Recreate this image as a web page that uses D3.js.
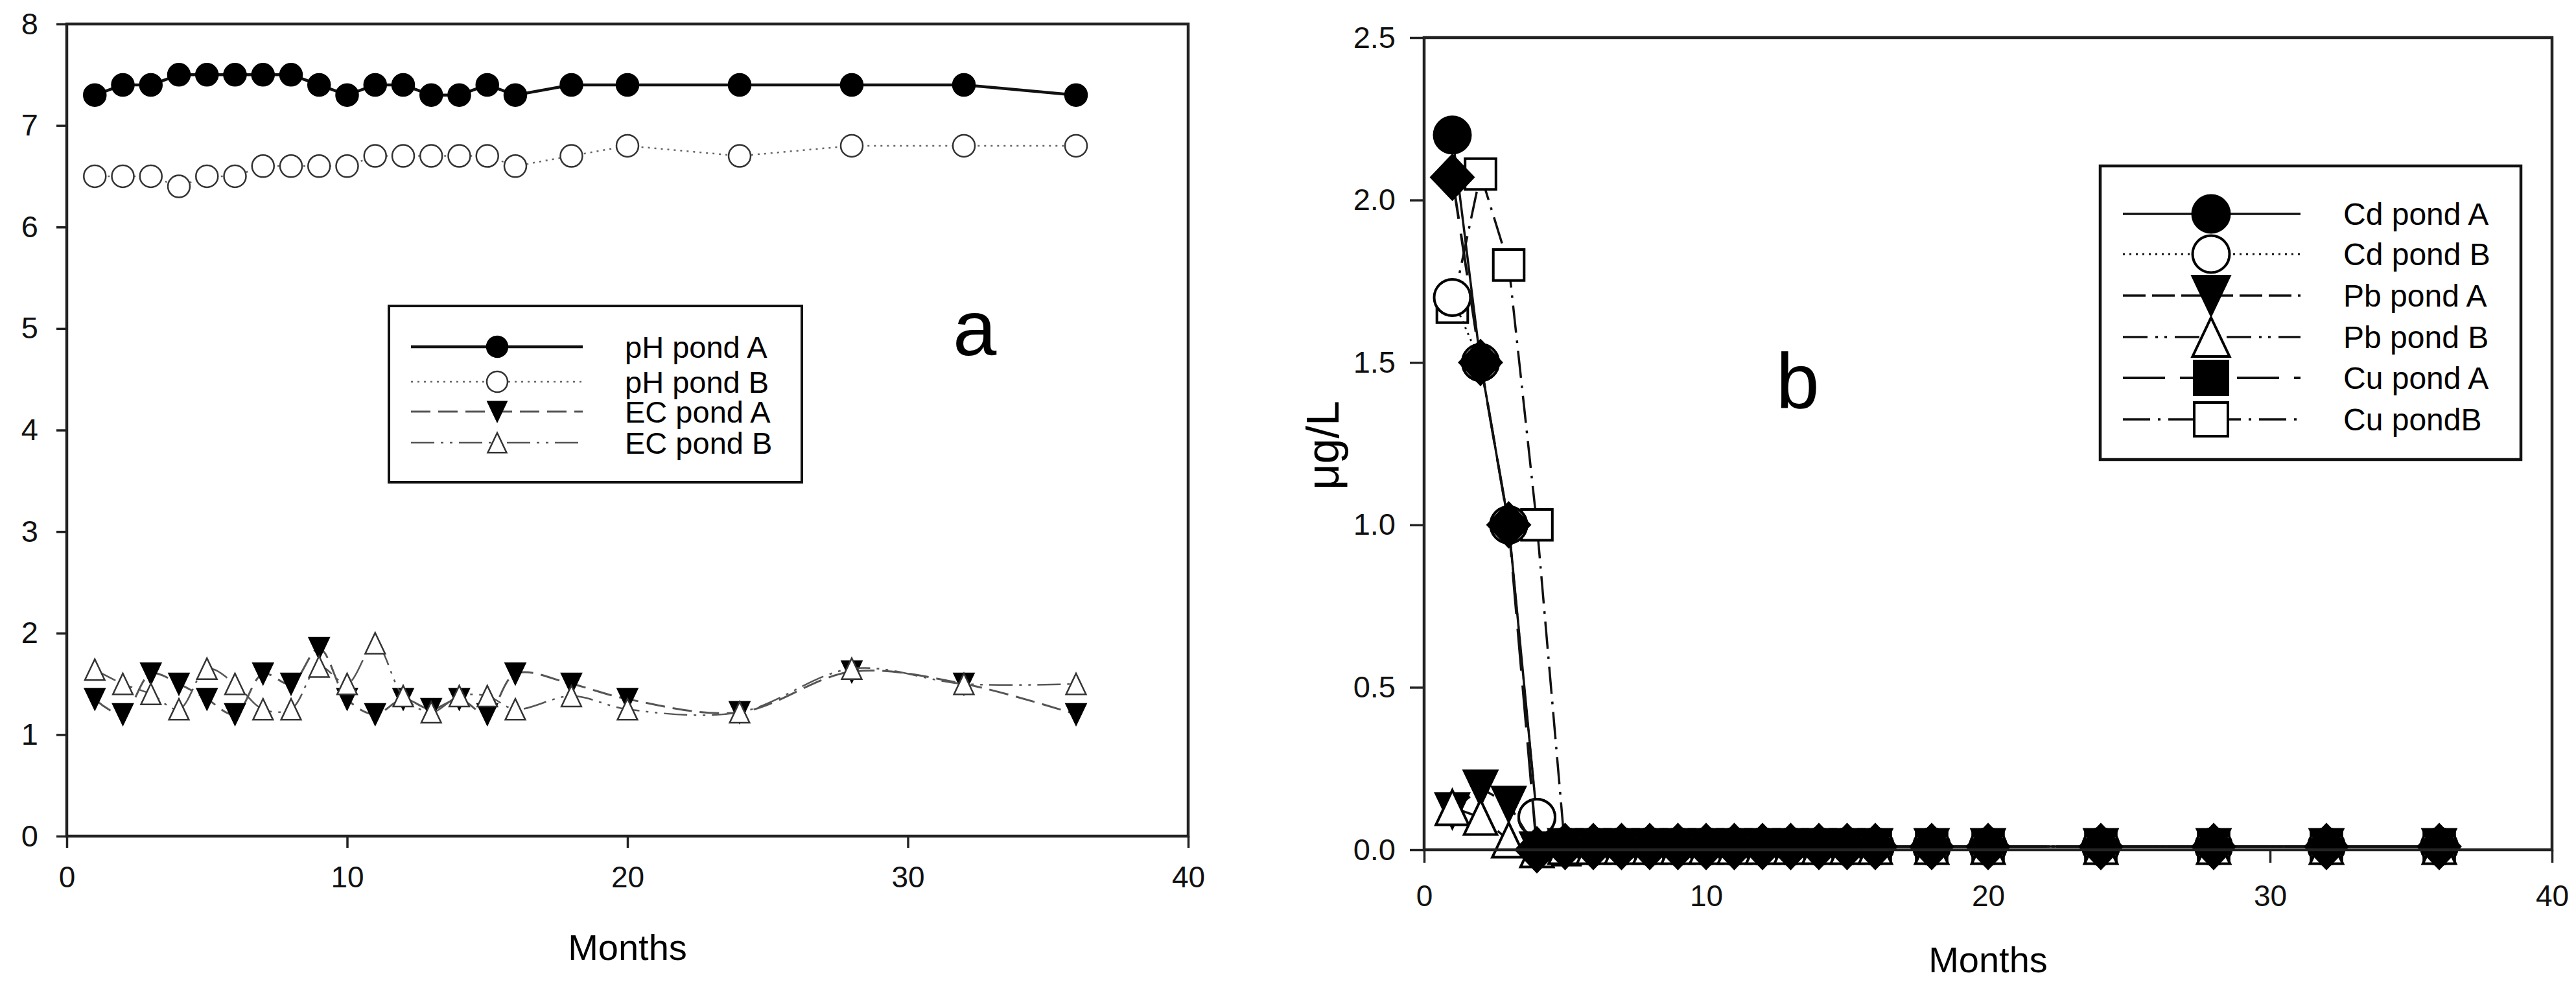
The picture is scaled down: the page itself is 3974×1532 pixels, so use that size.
<!DOCTYPE html>
<html>
<head>
<meta charset="utf-8">
<style>
    body { margin: 0; background: #fff; }
    svg { display: block; background: #fff; font-family: "Liberation Sans", Arial, sans-serif; }
    .frame { fill: none; stroke: #222; stroke-width: 4.5; }
    .axis path { display: none; }
    .axis line { stroke: #222; stroke-width: 3.5; }
    .axis text { fill: #111; }
</style>
</head>
<body>
<script src="https://d3js.org/d3.v7.min.js"></script>
<script>

    // sampling months (both panels)
    var months = [1, 2, 3, 4, 5, 6, 7, 8, 9, 10, 11, 12, 13, 14, 15, 16, 18, 20, 24, 28, 32, 36];

    // panel a
    var phPondA = [7.3, 7.4, 7.4, 7.5, 7.5, 7.5, 7.5, 7.5, 7.4, 7.3, 7.4, 7.4, 7.3, 7.3, 7.4, 7.3, 7.4, 7.4, 7.4, 7.4, 7.4, 7.3];
    var phPondB = [6.5, 6.5, 6.5, 6.4, 6.5, 6.5, 6.6, 6.6, 6.6, 6.6, 6.7, 6.7, 6.7, 6.7, 6.7, 6.6, 6.7, 6.8, 6.7, 6.8, 6.8, 6.8];
    var ecPondA = [1.35, 1.2, 1.6, 1.5, 1.35, 1.2, 1.6, 1.5, 1.85, 1.35, 1.2, 1.35, 1.25, 1.35, 1.2, 1.6, 1.5, 1.35, 1.22, 1.62, 1.5, 1.2];
    var ecPondB = [1.64, 1.5, 1.4, 1.25, 1.65, 1.5, 1.25, 1.25, 1.67, 1.5, 1.9, 1.38, 1.22, 1.38, 1.38, 1.25, 1.38, 1.25, 1.22, 1.65, 1.5, 1.5];

    // panel b (ug/L)
    var cdPondA = [2.2, 1.5, 1.0, 0.1, 0.01, 0.01, 0.01, 0.01, 0.01, 0.01, 0.01, 0.01, 0.01, 0.01, 0.01, 0.01, 0.01, 0.01, 0.01, 0.01, 0.01, 0.01];
    var cdPondB = [1.7, 1.5, 1.0, 0.1, 0.01, 0.01, 0.01, 0.01, 0.01, 0.01, 0.01, 0.01, 0.01, 0.01, 0.01, 0.01, 0.01, 0.01, 0.01, 0.01, 0.01, 0.01];
    var pbPondA = [0.12, 0.19, 0.14, 0.0, 0.01, 0.01, 0.01, 0.01, 0.01, 0.01, 0.01, 0.01, 0.01, 0.01, 0.01, 0.01, 0.01, 0.01, 0.01, 0.01, 0.01, 0.01];
    var pbPondB = [0.13, 0.1, 0.03, 0.0, 0.01, 0.01, 0.01, 0.01, 0.01, 0.01, 0.01, 0.01, 0.01, 0.01, 0.01, 0.01, 0.01, 0.01, 0.01, 0.01, 0.01, 0.01];
    var cuPondA = [2.07, 1.5, 1.0, 0.0, 0.01, 0.01, 0.01, 0.01, 0.01, 0.01, 0.01, 0.01, 0.01, 0.01, 0.01, 0.01, 0.01, 0.01, 0.01, 0.01, 0.01, 0.01];
    var cuPondB = [1.67, 2.08, 1.8, 1.0, 0.0, 0.01, 0.01, 0.01, 0.01, 0.01, 0.01, 0.01, 0.01, 0.01, 0.01, 0.01, 0.01, 0.01, 0.01, 0.01, 0.01, 0.01];

    var xTicks = [0, 10, 20, 30, 40];
    var yTicksA = [0, 1, 2, 3, 4, 5, 6, 7, 8];
    var yTicksB = [0, 0.5, 1.0, 1.5, 2.0, 2.5];

    var seriesA = [
        { name: "pH pond A", values: phPondA, sym: "circle", fill: "#000", stroke: "#111", width: 4.5, dash: null, curve: d3.curveLinear },
        { name: "pH pond B", values: phPondB, sym: "circle", fill: "#fff", stroke: "#666", width: 2.5, dash: "3,7", curve: d3.curveLinear },
        { name: "EC pond A", values: ecPondA, sym: "triDown", fill: "#000", stroke: "#555", width: 3, dash: "30,12", curve: d3.curveCatmullRom },
        { name: "EC pond B", values: ecPondB, sym: "triUp", fill: "#fff", stroke: "#555", width: 2.5, dash: "36,10,4,10,4,10", curve: d3.curveCatmullRom }
    ];

    // z = drawing order (the open squares sit under the filled marks)
    var seriesB = [
        { name: "Cd pond A", values: cdPondA, sym: "circle", legendSym: "circle", fill: "#000", dash: null, width: 3.5, z: 1 },
        { name: "Cd pond B", values: cdPondB, sym: "circle", legendSym: "circle", fill: "#fff", dash: "3,7", width: 3, z: 2 },
        { name: "Pb pond A", values: pbPondA, sym: "triDown", legendSym: "triDown", fill: "#000", dash: "35,10", width: 3.5, z: 3 },
        { name: "Pb pond B", values: pbPondB, sym: "triUp", legendSym: "triUp", fill: "#fff", dash: "38,12,4,10,4,12", width: 3.5, z: 4 },
        { name: "Cu pond A", values: cuPondA, sym: "diamond", legendSym: "square", fill: "#000", dash: "65,23", width: 4, z: 5 },
        { name: "Cu pondB", values: cuPondB, sym: "square", legendSym: "square", fill: "#fff", dash: "42,12,4,12", width: 3.5, z: 0 }
    ];

    var W = 3974, H = 1532;
    var svg = d3.select("body").append("svg").attr("width", W).attr("height", H);

    function symbolPath(type, s) {
        var r = s / 2, p = d3.path();
        switch (type) {
            case "circle": p.arc(0, 0, r, 0, 2 * Math.PI); break;
            case "square": p.rect(-r, -r, s, s); break;
            case "diamond": p.moveTo(0, -r * 1.05); p.lineTo(r, 0); p.lineTo(0, r * 1.05); p.lineTo(-r, 0); p.closePath(); break;
            case "triUp": p.moveTo(0, -r); p.lineTo(r * 0.95, r); p.lineTo(-r * 0.95, r); p.closePath(); break;
            case "triDown": p.moveTo(0, r); p.lineTo(r * 0.95, -r); p.lineTo(-r * 0.95, -r); p.closePath(); break;
        }
        return p.toString();
    }

    function symSize(type, base) {
        if (type === "diamond") return base * 1.15;
        if (type === "square") return base * 0.85;
        if (type === "triUp" || type === "triDown") return base * 0.95;
        return base;
    }

    function styleAxis(g, size) {
        g.attr("font-size", size).attr("font-family", null);
    }

    // ---------- panel a ----------
    var xA = d3.scaleLinear().domain([0, 40]).range([103, 1833]);
    var yA = d3.scaleLinear().domain([0, 8]).range([1290, 37]);

    var gA = svg.append("g");

    gA.append("g").attr("class", "axis")
        .attr("transform", "translate(0," + yA(0) + ")")
        .call(d3.axisBottom(xA).tickValues(xTicks).tickSize(18).tickPadding(28).tickSizeOuter(0))
        .call(styleAxis, 46);

    gA.append("g").attr("class", "axis")
        .attr("transform", "translate(" + xA(0) + ",0)")
        .call(d3.axisLeft(yA).tickValues(yTicksA).tickSize(16).tickPadding(28).tickSizeOuter(0))
        .call(styleAxis, 47);

    seriesA.forEach(function(s) {
        var pts = months.map(function(m, i) { return [m, s.values[i]]; });
        var line = d3.line().curve(s.curve)
            .x(function(d) { return xA(d[0]); })
            .y(function(d) { return yA(d[1]); });
        gA.append("path")
            .attr("d", line(pts))
            .attr("fill", "none")
            .attr("stroke", s.stroke)
            .attr("stroke-width", s.width)
            .attr("stroke-dasharray", s.dash);
        gA.append("g").selectAll("path")
            .data(pts)
            .enter().append("path")
            .attr("transform", function(d) { return "translate(" + xA(d[0]) + "," + yA(d[1]) + ")"; })
            .attr("d", symbolPath(s.sym, symSize(s.sym, 34)))
            .attr("fill", s.fill)
            .attr("stroke", s.fill === "#000" ? "#000" : "#333")
            .attr("stroke-width", 2.5);
    });

    gA.append("rect").attr("class", "frame")
        .attr("x", xA(0)).attr("y", yA(8))
        .attr("width", xA(40) - xA(0)).attr("height", yA(0) - yA(8));

    // legend a
    var legA = gA.append("g");
    legA.append("rect").attr("x", 600).attr("y", 472).attr("width", 637).attr("height", 272)
        .attr("fill", "#fff").attr("stroke", "#111").attr("stroke-width", 4);
    var rowsA = [535, 589, 635, 683];
    seriesA.forEach(function(s, i) {
        var y = rowsA[i];
        legA.append("line").attr("x1", 634).attr("x2", 899).attr("y1", y).attr("y2", y)
            .attr("stroke", s.stroke).attr("stroke-width", s.width)
            .attr("stroke-dasharray", s.dash);
        legA.append("path")
            .attr("transform", "translate(767," + y + ")")
            .attr("d", symbolPath(s.sym, symSize(s.sym, 32)))
            .attr("fill", s.fill)
            .attr("stroke", s.fill === "#000" ? "#000" : "#333")
            .attr("stroke-width", 2.5);
        legA.append("text").attr("x", 964).attr("y", y).attr("dy", "0.36em")
            .attr("font-size", 47).text(s.name);
    });

    gA.append("text").attr("x", 1470).attr("y", 548).attr("font-size", 121).text("a");

    gA.append("text").attr("x", (xA(0) + xA(40)) / 2).attr("y", 1481)
        .attr("text-anchor", "middle").attr("font-size", 56).text("Months");

    // ---------- panel b ----------
    var xB = d3.scaleLinear().domain([0, 40]).range([2197, 3937]);
    var yB = d3.scaleLinear().domain([0, 2.5]).range([1311, 58]);

    var gB = svg.append("g");

    gB.append("g").attr("class", "axis")
        .attr("transform", "translate(0," + yB(0) + ")")
        .call(d3.axisBottom(xB).tickValues(xTicks).tickSize(20).tickPadding(34).tickSizeOuter(0))
        .call(styleAxis, 46);

    gB.append("g").attr("class", "axis")
        .attr("transform", "translate(" + xB(0) + ",0)")
        .call(d3.axisLeft(yB).tickValues(yTicksB).tickFormat(d3.format(".1f")).tickSize(22).tickPadding(22).tickSizeOuter(0))
        .call(styleAxis, 47);

    seriesB.slice().sort(function(a, b) { return a.z - b.z; }).forEach(function(s) {
        var pts = months.map(function(m, i) { return [m, s.values[i]]; });
        var line = d3.line()
            .x(function(d) { return xB(d[0]); })
            .y(function(d) { return yB(d[1]); });
        gB.append("path")
            .attr("d", line(pts))
            .attr("fill", "none")
            .attr("stroke", "#111")
            .attr("stroke-width", s.width)
            .attr("stroke-dasharray", s.dash);
        gB.append("g").selectAll("path")
            .data(pts)
            .enter().append("path")
            .attr("transform", function(d) { return "translate(" + xB(d[0]) + "," + yB(d[1]) + ")"; })
            .attr("d", symbolPath(s.sym, symSize(s.sym, 56)))
            .attr("fill", s.fill)
            .attr("stroke", "#000")
            .attr("stroke-width", 4);
    });

    gB.append("rect").attr("class", "frame")
        .attr("x", xB(0)).attr("y", yB(2.5))
        .attr("width", xB(40) - xB(0)).attr("height", yB(0) - yB(2.5));

    // legend b
    var legB = gB.append("g");
    legB.append("rect").attr("x", 3240).attr("y", 256).attr("width", 649).attr("height", 453)
        .attr("fill", "#fff").attr("stroke", "#111").attr("stroke-width", 4.5);
    var rowsB = [330, 392, 456, 520, 583, 647];
    seriesB.forEach(function(s, i) {
        var y = rowsB[i];
        legB.append("line").attr("x1", 3275).attr("x2", 3549).attr("y1", y).attr("y2", y)
            .attr("stroke", "#111").attr("stroke-width", s.width)
            .attr("stroke-dasharray", s.dash);
        legB.append("path")
            .attr("transform", "translate(3411," + y + ")")
            .attr("d", symbolPath(s.legendSym, s.legendSym === "square" ? 52 : (s.legendSym === "circle" ? 57 : 60)))
            .attr("fill", s.fill)
            .attr("stroke", "#000")
            .attr("stroke-width", 4);
        legB.append("text").attr("x", 3615).attr("y", y).attr("dy", "0.36em")
            .attr("font-size", 48).text(s.name);
    });

    gB.append("text").attr("x", 2740).attr("y", 629).attr("font-size", 120).text("b");

    gB.append("text").attr("transform", "translate(2065,687) rotate(-90)")
        .attr("text-anchor", "middle").attr("font-size", 70).text("μg/L");

    gB.append("text").attr("x", (xB(0) + xB(40)) / 2).attr("y", 1500)
        .attr("text-anchor", "middle").attr("font-size", 56).text("Months");

</script>
</body>
</html>
